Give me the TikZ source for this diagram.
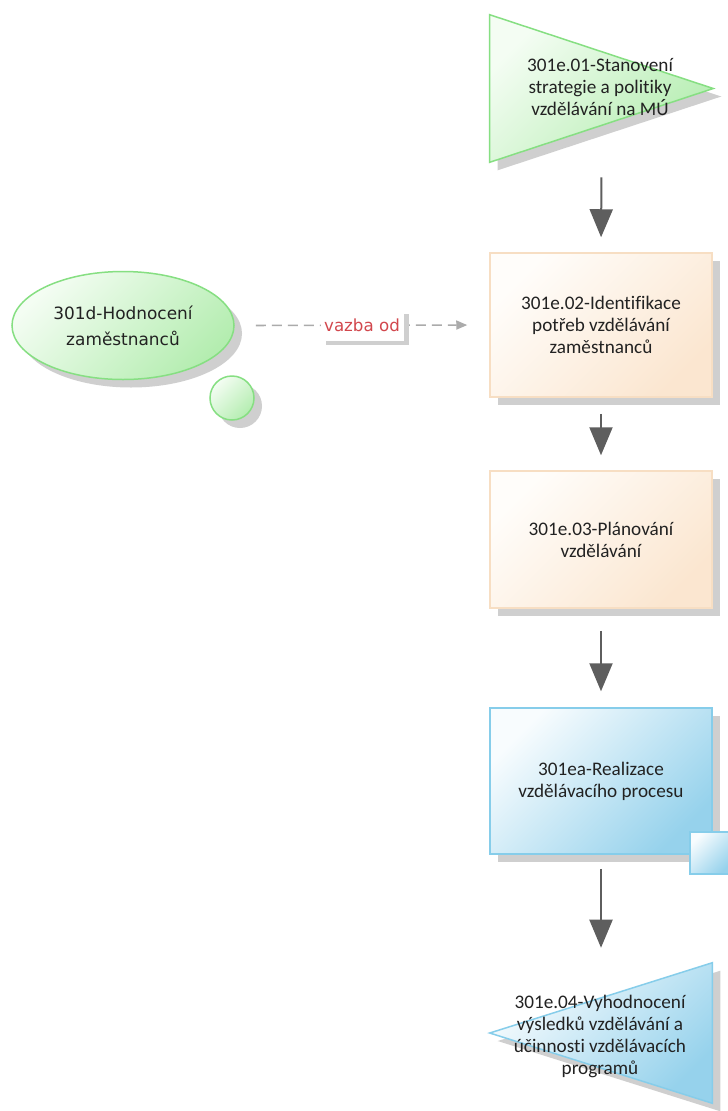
\documentclass[tikz,border=0pt]{standalone}
\usepackage{fontspec}
\setmainfont[Ligatures=CommonOff]{Carlito}
\newfontfamily\tahfont{DejaVu Sans}
\usetikzlibrary{arrows.meta,shapes.geometric,shadows}
\definecolor{shadowgray}{HTML}{CFCFCF}
\definecolor{greenedge}{HTML}{86DF82}
\definecolor{greenfill}{HTML}{B4EDB0}
\definecolor{greenlight}{HTML}{F4FDF3}
\definecolor{peachedge}{HTML}{F7DEC3}
\definecolor{peachfill}{HTML}{FBE6D0}
\definecolor{peachlight}{HTML}{FFFDFA}
\definecolor{blueedge}{HTML}{86CDEA}
\definecolor{bluefill}{HTML}{96D2EC}
\definecolor{bluelight}{HTML}{F8FCFE}
\definecolor{flowgray}{HTML}{5E5E5E}
\definecolor{dashgray}{HTML}{ABABAB}
\definecolor{linkred}{HTML}{D2474D}
\definecolor{textdark}{HTML}{222222}
% one drawing unit = 0.75pt
\tikzset{
  boxtext/.style={font=\fontsize{14.4pt}{16.5pt}\selectfont, text=textdark, align=center},
  frame/.style={draw=none, inner sep=0pt, rectangle},
  greenshade/.style={top color=greenlight, bottom color=greenfill, shading angle=45, draw=greenedge, line width=1.125pt},
  peachshade/.style={top color=peachlight, bottom color=peachfill, shading angle=45, draw=peachedge, line width=1.125pt},
  blueshade/.style={top color=bluelight, bottom color=bluefill, shading angle=45, draw=blueedge, line width=1.125pt},
  boxshadow/.style={drop shadow={shadow xshift=6pt, shadow yshift=-6pt, fill=shadowgray, opacity=1}},
  smallshadow/.style={drop shadow={shadow xshift=3.75pt, shadow yshift=-3pt, fill=shadowgray, opacity=1}},
  procbox/.style={rectangle, inner sep=0pt, minimum width=166.5pt, boxtext, boxshadow},
  flow/.style={draw=flowgray, line width=1.5pt, -{Triangle[width=17.25pt,length=21pt]}},
  dashline/.style={draw=dashgray, line width=1.2pt, dash pattern=on 7.5pt off 4.5pt,
    -{Triangle[width=6.75pt,length=8.25pt]}},
  linklabel/.style={rectangle, fill=white, inner sep=0pt, minimum width=62.25pt, minimum height=23.25pt,
    text=linkred, font=\tahfont\fontsize{12.5pt}{15pt}\selectfont, smallshadow},
}
\begin{document}
\begin{tikzpicture}[x=0.75pt, y=-0.75pt]
  \useasboundingbox (0,0) rectangle (728,1111);
  \fill[white] (0,0) rectangle (728,1111);

  % strategy triangle (pointing right)
  \node[frame, minimum width=167.25pt, minimum height=110.25pt] (t1) at (601.5,88.5) {};
  \fill[shadowgray] ([shift={(8,8)}]t1.north west) -- ([shift={(8,8)}]t1.east)
    -- ([shift={(8,8)}]t1.south west) -- cycle;
  \shade[greenshade] (t1.north west) -- (t1.east) -- (t1.south west) -- cycle;
  \node[boxtext] (t1text) at (600,87) {301e.01-Stanovení\\strategie a politiky\\vzdělávání na MÚ};

  % process boxes
  \node[procbox, peachshade, minimum height=108pt] (b2) at (601,325)
    {301e.02-Identifikace\\potřeb vzdělávání\\zaměstnanců};
  \node[procbox, peachshade, minimum height=102.75pt] (b3) at (601,539.5)
    {301e.03-Plánování\\vzdělávání};
  \node[procbox, blueshade, minimum height=109.5pt] (b4) at (601,781)
    {301ea-Realizace\\vzdělávacího procesu};
  \node[rectangle, inner sep=0pt, minimum size=31.5pt, blueshade] (q4) at (711,853) {};

  % evaluation triangle (pointing left)
  \node[frame, minimum width=166.5pt, minimum height=105pt] (t5) at (601,1033) {};
  \fill[shadowgray] ([shift={(8,8)}]t5.north east) -- ([shift={(8,8)}]t5.west)
    -- ([shift={(8,8)}]t5.south east) -- cycle;
  \shade[blueshade] (t5.north east) -- (t5.west) -- (t5.south east) -- cycle;
  \node[boxtext] (t5text) at (600,1036)
    {301e.04-Vyhodnocení\\výsledků vzdělávání a\\účinnosti vzdělávacích\\programů};

  % employee evaluation bubble
  \node[ellipse, inner sep=0pt, minimum width=166.5pt, minimum height=81pt, greenshade, boxshadow,
    align=center, text=textdark, font=\tahfont\fontsize{12.7pt}{19.5pt}\selectfont] (e) at (123,325.5)
    {301d-Hodnocení\\zaměstnanců};
  \node[circle, inner sep=0pt, minimum size=33pt, greenshade, boxshadow] (c) at (232,398) {};

  % flow connectors
  \draw[flow, shorten <=11.25pt, shorten >=11.25pt] (t1.south) -- (b2.north);
  \draw[flow, shorten <=12pt, shorten >=11.25pt] (b2.south) -- (b3.north);
  \draw[flow, shorten <=16.5pt, shorten >=12pt] (b3.south) -- (b4.north);
  \draw[flow, shorten <=10.5pt, shorten >=11.25pt] (b4.south) -- (t5.north);

  % dependency link
  \draw[dashline, shorten <=15.75pt, shorten >=16.5pt] (e.east) -- node[linklabel] (lbl) {vazba od} (b2.west);
\end{tikzpicture}
\end{document}
